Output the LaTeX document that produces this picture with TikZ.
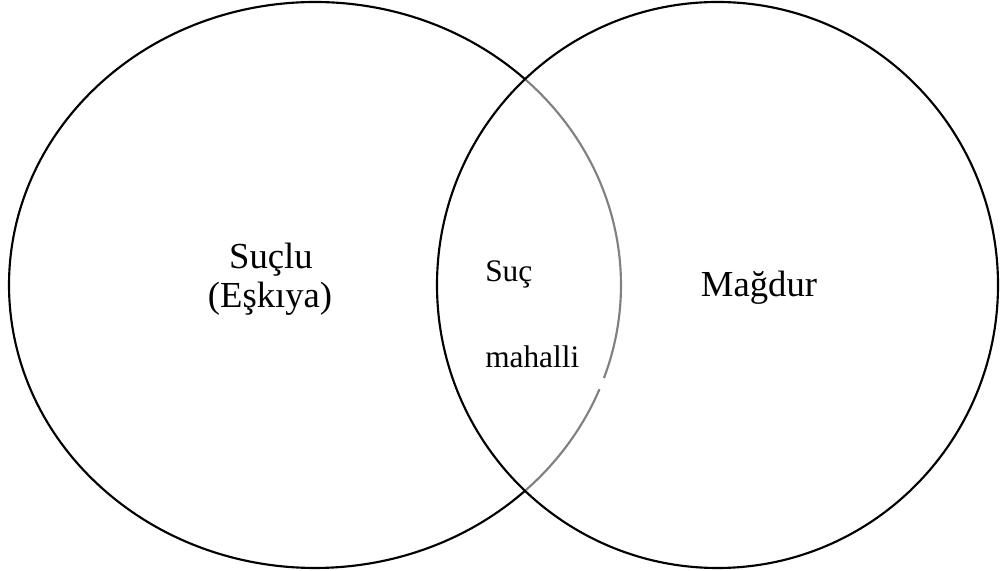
\documentclass[tikz,border=0pt]{standalone}
\usepackage{fontspec}
\setmainfont{Liberation Serif}
\begin{document}
\begin{tikzpicture}[x=0.75pt,y=0.75pt,
  ring/.style={line width=1.6pt,draw=black},
  grayring/.style={line width=1.6pt,draw=black!50},
  bigtext/.style={inner sep=0pt,anchor=base,font=\fontsize{27.5}{33}\selectfont},
  smalltext/.style={inner sep=0pt,anchor=base west,font=\fontsize{23.5}{28}\selectfont}]
\useasboundingbox (0,0) rectangle (1000,571);
\coordinate (lc) at (315,286);
\coordinate (rc) at (717.5,286);
% left ellipse, outer part black
\draw[ring] (lc) ++(46.7:306 and 283) arc[start angle=46.7,end angle=313.3,x radius=306,y radius=283];
% inner part gray with a small gap
\draw[grayring] (lc) ++(-46.7:306 and 283) arc[start angle=-46.7,end angle=-21.6,x radius=306,y radius=283];
\draw[grayring] (lc) ++(-19.2:306 and 283) arc[start angle=-19.2,end angle=46.7,x radius=306,y radius=283];
% right circle
\draw[ring] (rc) ellipse[x radius=280.5,y radius=283];
\node[bigtext] (suclu) at (271,302) {Suçlu};
\node[bigtext] (eskiya) at (270,263) {(Eşkıya)};
\node[bigtext] (magdur) at (759,274) {Mağdur};
\node[smalltext] (suc) at (485,289) {Suç};
\node[smalltext] (mahalli) at (485,203) {mahalli};
\end{tikzpicture}
\end{document}
